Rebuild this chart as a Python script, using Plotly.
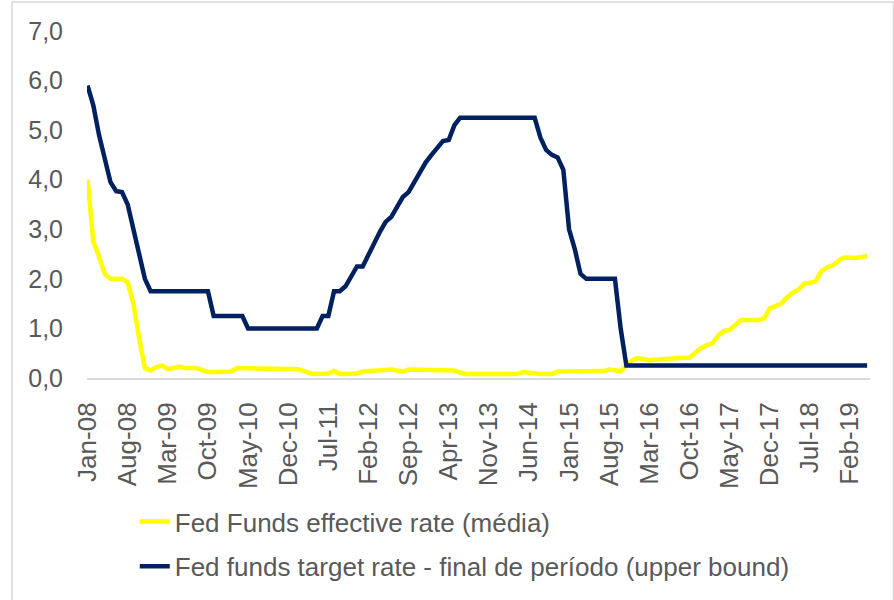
import pandas as pd
import plotly.graph_objects as go

# monthly categories Jan-08 .. May-19
months = [d.strftime("%b-%y") for d in pd.date_range("2008-01-01", "2019-05-01", freq="MS")]
tick_labels = months[::7]

# Fed Funds effective rate (média)
effective_rate = [
    4.00, 2.75, 2.45, 2.10, 2.00, 2.00, 2.00, 1.93, 1.50, 0.80,
    0.20, 0.15, 0.22, 0.25, 0.18, 0.20, 0.23, 0.20, 0.20, 0.20,
    0.16, 0.12, 0.12, 0.12, 0.12, 0.13, 0.20, 0.20, 0.20, 0.20,
    0.20, 0.20, 0.20, 0.20, 0.20, 0.18, 0.18, 0.17, 0.12, 0.09,
    0.08, 0.08, 0.09, 0.14, 0.08, 0.08, 0.08, 0.09, 0.13, 0.14,
    0.16, 0.17, 0.17, 0.17, 0.15, 0.13, 0.17, 0.17, 0.17, 0.17,
    0.17, 0.17, 0.17, 0.17, 0.15, 0.11, 0.08, 0.08, 0.08, 0.08,
    0.08, 0.08, 0.08, 0.08, 0.08, 0.08, 0.12, 0.10, 0.08, 0.08,
    0.08, 0.08, 0.13, 0.13, 0.13, 0.13, 0.13, 0.13, 0.13, 0.13,
    0.14, 0.17, 0.16, 0.14, 0.25, 0.36, 0.40, 0.37, 0.36, 0.37,
    0.38, 0.40, 0.41, 0.41, 0.41, 0.41, 0.50, 0.60, 0.66, 0.70,
    0.85, 0.95, 0.97, 1.08, 1.17, 1.17, 1.17, 1.17, 1.20, 1.40,
    1.45, 1.50, 1.62, 1.72, 1.78, 1.90, 1.92, 1.95, 2.15, 2.23,
    2.27, 2.37, 2.43, 2.42, 2.42, 2.44, 2.46,
]

# Fed funds target rate - final de período (upper bound)
target_rate = [
    5.90, 5.50, 4.90, 4.40, 3.95, 3.77, 3.75, 3.50, 3.00, 2.50,
    2.00, 1.75, 1.75, 1.75, 1.75, 1.75, 1.75, 1.75, 1.75, 1.75,
    1.75, 1.75, 1.25, 1.25, 1.25, 1.25, 1.25, 1.25, 1.00, 1.00,
    1.00, 1.00, 1.00, 1.00, 1.00, 1.00, 1.00, 1.00, 1.00, 1.00,
    1.00, 1.25, 1.25, 1.75, 1.75, 1.85, 2.05, 2.25, 2.25, 2.50,
    2.75, 2.95, 3.15, 3.25, 3.45, 3.65, 3.75, 3.95, 4.15, 4.35,
    4.50, 4.65, 4.78, 4.80, 5.10, 5.25, 5.25, 5.25, 5.25, 5.25,
    5.25, 5.25, 5.25, 5.25, 5.25, 5.25, 5.25, 5.25, 5.25, 4.85,
    4.60, 4.50, 4.45, 4.20, 3.00, 2.60, 2.10, 2.00, 2.00, 2.00,
    2.00, 2.00, 2.00, 1.00, 0.25, 0.25, 0.25, 0.25, 0.25, 0.25,
    0.25, 0.25, 0.25, 0.25, 0.25, 0.25, 0.25, 0.25, 0.25, 0.25,
    0.25, 0.25, 0.25, 0.25, 0.25, 0.25, 0.25, 0.25, 0.25, 0.25,
    0.25, 0.25, 0.25, 0.25, 0.25, 0.25, 0.25, 0.25, 0.25, 0.25,
    0.25, 0.25, 0.25, 0.25, 0.25, 0.25, 0.25,
]

TEXT = "#595959"
FONT = "Arial, Liberation Sans, sans-serif"

fig = go.Figure()
fig.add_trace(
    go.Scatter(
        x=months,
        y=effective_rate,
        mode="lines",
        name="Fed Funds effective rate (média)",
        line=dict(color="#FFFF00", width=4.5),
        legendgroup="a",
    )
)
fig.add_trace(
    go.Scatter(
        x=months,
        y=target_rate,
        mode="lines",
        name="Fed funds target rate - final de período (upper bound)",
        line=dict(color="#002060", width=4.5),
        legendgroup="b",
    )
)

fig.update_layout(
    width=894,
    height=600,
    margin=dict(l=87, r=24, t=31, b=222, autoexpand=False),
    plot_bgcolor="white",
    paper_bgcolor="white",
    separators=",.",
    font=dict(family=FONT, size=25, color=TEXT),
    showlegend=True,
    legend=dict(
        x=0.061,
        y=-0.346,
        xanchor="left",
        yanchor="top",
        orientation="v",
        tracegroupgap=8,
        font=dict(size=26, color=TEXT),
        bgcolor="rgba(0,0,0,0)",
    ),
    xaxis=dict(
        type="category",
        range=[-0.1, 136.5],
        tickmode="array",
        tickvals=tick_labels,
        ticktext=tick_labels,
        tickangle=-90,
        showgrid=False,
        zeroline=False,
        showline=True,
        linecolor="#d9d9d9",
        linewidth=2,
        ticks="",
        ticklabelstandoff=12,
        tickfont=dict(size=26, color=TEXT),
    ),
    yaxis=dict(
        range=[0, 7],
        dtick=1,
        tickformat=".1f",
        showgrid=False,
        zeroline=False,
        showline=False,
        ticks="",
        ticklabelstandoff=23,
        tickfont=dict(size=25, color=TEXT),
    ),
    shapes=[
        dict(
            type="rect",
            xref="paper",
            yref="paper",
            x0=-0.0958,
            x1=1.03,
            y0=-0.65,
            y1=1.0835,
            line=dict(color="#d9d9d9", width=1.5),
            layer="below",
        )
    ],
)

# page body has a default 8px margin; drop it so the figure sits at 0,0
fig.write_html(
    "out.html",
    config={"displayModeBar": False},
    post_script="document.body.style.margin='0';",
)
